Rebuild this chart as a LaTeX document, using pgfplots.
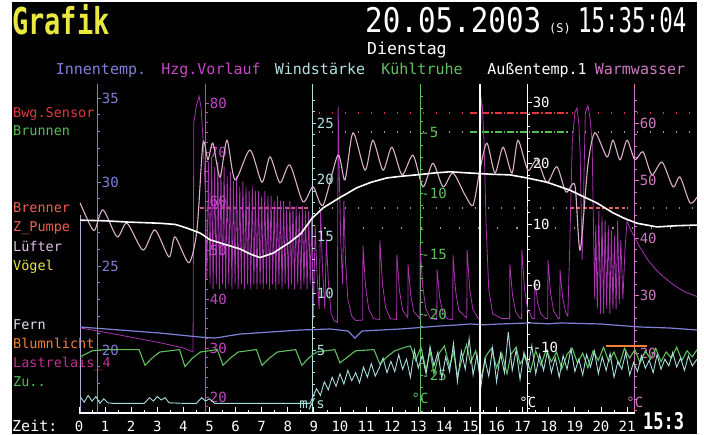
\documentclass[border=0pt]{standalone}
\usepackage{fontspec}
\setmainfont{DejaVu Sans Mono}
\setmonofont{DejaVu Sans Mono}
\usepackage{graphicx}
\usepackage{pgfplots}
\pgfplotsset{compat=1.18}
\definecolor{innen}{HTML}{8080D8}
\definecolor{hzg}{HTML}{C448C4}
\definecolor{hzgd}{HTML}{A834B0}
\definecolor{wind}{HTML}{B0E0E0}
\definecolor{windd}{HTML}{A8DCDC}
\definecolor{kuehl}{HTML}{60C060}
\definecolor{warm}{HTML}{D078C0}
\definecolor{warmd}{HTML}{D8B0C8}
\definecolor{gelb}{HTML}{E8E840}
\definecolor{rot}{HTML}{E03838}
\definecolor{salm}{HTML}{F06050}
\definecolor{blum}{HTML}{F08038}
\definecolor{gruen}{HTML}{50C050}
\definecolor{lila}{HTML}{C03090}
\definecolor{dotg}{HTML}{9A9A9A}
\definecolor{brpink}{HTML}{D05090}
\definecolor{luef}{HTML}{E0C0E8}
\definecolor{fern}{HTML}{E0E0F8}
\definecolor{nullln}{HTML}{B8A8D8}
\newcommand\f[1]{\fontsize{#1}{#1}\selectfont}
\pgfplotsset{base/.style={scale only axis, width=618pt, height=318pt,
  xmin=0, xmax=23.68, hide axis, clip=false, at={(79pt,21pt)}, anchor=south west}}
\begin{document}
\begin{tikzpicture}[x=1pt,y=1pt]
\useasboundingbox (0,0) rectangle (704,434);
\fill[white] (0,0) rectangle (704,434);
\fill[black] (12,0) rectangle (697,432);
% ---------- header texts
\node[anchor=base west,inner sep=0,text=gelb] at (12,399) {\f{37}\bfseries\scalebox{0.73}[1]{Grafik}};
\node[anchor=base west,inner sep=0,text=white] at (365,401) {\f{34}\scalebox{0.86}[1]{20.05.2003}};
\node[anchor=base west,inner sep=0,text=white] at (549,401) {\f{12}(S)};
\node[anchor=base west,inner sep=0,text=white] at (578,401) {\f{34}\scalebox{0.66}[1]{15:35:04}};
\node[anchor=base west,inner sep=0,text=white] at (367,379) {\f{16.5}Dienstag};
\node[anchor=base,inner sep=0,text=innen] at (101,359) {\f{15}Innentemp.};
\node[anchor=base,inner sep=0,text=hzg] at (211,359) {\f{15}Hzg.Vorlauf};
\node[anchor=base,inner sep=0,text=wind] at (320,359) {\f{15}Windstärke};
\node[anchor=base,inner sep=0,text=kuehl] at (422,359) {\f{15}Kühltruhe};
\node[anchor=base,inner sep=0,text=white] at (537,359) {\f{15}Außentemp.1};
\node[anchor=base,inner sep=0,text=warm] at (640,359) {\f{15}Warmwasser};
% ---------- left labels
\node[anchor=base west,inner sep=0,text=rot] at (13,316) {\f{13.5}Bwg.Sensor};
\node[anchor=base west,inner sep=0,text=gruen] at (13,298) {\f{13.5}Brunnen};
\node[anchor=base west,inner sep=0,text=salm] at (13,221) {\f{13.5}Brenner};
\node[anchor=base west,inner sep=0,text=salm] at (13,202) {\f{13.5}Z\_Pumpe};
\node[anchor=base west,inner sep=0,text=luef] at (13,182) {\f{13.5}Lüfter};
\node[anchor=base west,inner sep=0,text=gelb] at (13,163) {\f{13.5}Vögel};
\node[anchor=base west,inner sep=0,text=fern] at (13,104) {\f{13.5}Fern};
\node[anchor=base west,inner sep=0,text=blum] at (13,86) {\f{13.5}Blumnlicht};
\node[anchor=base west,inner sep=0,text=lila] at (13,67) {\f{13.5}Lastrelais\_4};
\node[anchor=base west,inner sep=0,text=gruen] at (13,48) {\f{13.5}Zu..};
\node[anchor=base west,inner sep=0,text=white] at (12,3) {\f{15}Zeit:};

% ---------- pixel axis: binary traces and axis lines
\begin{axis}[base, ymin=0, ymax=318]
\draw[innen, line width=0.8pt] (axis cs:0.69,0) -- (axis cs:0.69,329);
\draw[hzg, line width=0.8pt] (axis cs:4.83,0) -- (axis cs:4.83,329);
\draw[wind, line width=0.8pt] (axis cs:8.93,0) -- (axis cs:8.93,329);
\draw[kuehl, line width=0.8pt] (axis cs:13.07,0) -- (axis cs:13.07,329);
\draw[white, line width=0.8pt] (axis cs:17.2,0) -- (axis cs:17.2,329);
\draw[warm, line width=0.8pt] (axis cs:21.3,0) -- (axis cs:21.3,329);
\draw[nullln, line width=0.8pt] (axis cs:0.04,0) -- (axis cs:0.04,198);
% Bwg.Sensor
\addplot[rot, line width=1.2pt, dash pattern=on 1.2pt off 11.8pt] coordinates {(9.2,300) (14.98,300)};
\addplot[rot, line width=1.4pt, dash pattern=on 7pt off 2pt on 1.5pt off 2pt] coordinates {(14.98,300) (18.81,300)};
\addplot[rot, line width=1.2pt, dash pattern=on 1.2pt off 11.8pt] coordinates {(18.9,300) (23.6,300)};
% Brunnen
\addplot[dotg, line width=1.2pt, dash pattern=on 1.2pt off 11.8pt] coordinates {(9.2,281) (14.98,281)};
\addplot[gruen, line width=1.4pt, dash pattern=on 7pt off 2pt on 1.5pt off 2pt] coordinates {(14.98,281) (18.81,281)};
\addplot[dotg, line width=1.2pt, dash pattern=on 1.2pt off 11.8pt] coordinates {(18.9,281) (23.6,281)};
% Brenner
\addplot[brpink, line width=1.3pt, dash pattern=on 4pt off 2.5pt] coordinates {(4.64,205) (8.85,205)};
\addplot[dotg, line width=1.2pt, dash pattern=on 1.2pt off 11.8pt] coordinates {(9.2,205) (18.8,205)};
\addplot[salm, line width=1.3pt, dash pattern=on 4pt off 2.5pt] coordinates {(18.81,205) (20.92,205)};
\addplot[dotg, line width=1.2pt, dash pattern=on 1.2pt off 11.8pt] coordinates {(21.0,205) (23.6,205)};
% Z_Pumpe
\addplot[dotg, line width=1.2pt, dash pattern=on 1.2pt off 18pt] coordinates {(9.4,185) (23.6,185)};
% Blumnlicht
\addplot[blum, line width=1.5pt] coordinates {(20.2,67) (21.75,67)};
\node[text=wind, font=\f{14}, inner sep=0] at (axis cs:8.93,9) {m/s};
\node[text=kuehl, font=\f{14}, inner sep=0] at (axis cs:13.07,15) {°C};
\node[text=white, font=\f{14}, inner sep=0] at (axis cs:17.2,11) {°C};
\node[text=warm, font=\f{14}, inner sep=0] at (axis cs:21.3,11) {°C};
\end{axis}

% ---------- Hzg.Vorlauf
\begin{axis}[base, ymin=16.73, ymax=81.63]
\addplot[hzgd, line width=0.8pt] coordinates {
(0.04,34.1) (1.0,33.2) (2.0,32.2) (3.0,31.2) (4.0,30.0) (4.37,29.2) (4.40,76) (4.50,79.5) (4.60,81.4) (4.68,79) (4.76,72) (4.84,62)
(4.90,44) (4.96,68) (5.02,43) (5.08,69) (5.14,42) (5.20,67) (5.26,43) (5.32,68) (5.38,42) (5.44,66) (5.50,43) (5.56,67) (5.62,42) (5.68,65) (5.74,43) (5.80,66) (5.86,42) (5.92,64) (5.98,43) (6.04,65) (6.10,42) (6.16,63) (6.22,43) (6.28,64) (6.34,42) (6.40,63) (6.46,43) (6.52,62) (6.58,42) (6.64,63) (6.70,43) (6.76,62) (6.82,42) (6.88,62) (6.94,43) (7.00,61) (7.06,42) (7.12,62) (7.18,43) (7.24,61) (7.30,42) (7.36,61) (7.42,43) (7.48,60) (7.54,42) (7.60,61) (7.66,43) (7.72,60) (7.78,42) (7.84,60) (7.90,43) (7.96,59) (8.02,42) (8.08,60) (8.14,43) (8.20,59) (8.26,42) (8.32,59) (8.38,43) (8.44,58) (8.50,42) (8.56,59) (8.62,43) (8.68,58) (8.74,42) (8.80,58) (8.86,43) (8.92,57)
(8.98,36) (9.05,55) (9.12,45) (9.20,38) (9.26,58) (9.33,46) (9.42,38) (9.48,52) (9.56,43) (9.66,37) (9.78,35.6) (9.90,35.2) (9.93,79.2) (9.97,66) (10.03,52) (10.10,43) (10.15,60) (10.21,48) (10.30,40) (10.45,36.5) (10.60,35.6)
(10.87,35.7) (10.88,51) (10.98,42.6) (11.10,38) (11.28,36) (11.52,35.8) (11.53,52) (11.63,43) (11.75,38.2) (11.93,36) (12.17,35.8) (12.18,49) (12.28,41.7) (12.40,37.7) (12.60,36.2) (12.61,47) (12.71,40.8) (12.83,37.4) (13.06,36) (13.07,51) (13.17,42.6) (13.29,38) (13.47,36) (13.71,35.8) (13.72,46) (13.82,40.3) (13.94,37.2) (14.12,35.9) (14.32,35.8) (14.33,49) (14.43,41.7) (14.55,37.7) (14.86,36.1) (14.87,50) (14.97,42.1) (15.09,37.9) (15.30,36)
(15.38,36) (15.40,81.3) (15.46,79) (15.52,72) (15.60,55) (15.70,42) (15.85,37) (16.20,36) (16.50,36) (16.51,47) (16.61,40.8) (16.73,37.4) (16.91,36) (16.96,36) (16.97,50) (17.07,42.1) (17.19,37.9) (17.37,36) (17.46,36) (17.47,44) (17.57,39.4) (17.69,37) (17.87,36) (17.96,36) (17.97,48) (18.07,41.2) (18.19,37.5) (18.37,36) (18.42,36) (18.43,46) (18.53,40.3) (18.65,37.2)
(18.73,36.5) (18.80,50) (18.90,72) (19.00,78) (19.08,79) (19.15,76) (19.20,70) (19.28,48) (19.33,60) (19.40,78) (19.50,79.5) (19.58,77) (19.66,72) (19.76,40) (19.80,55) (19.86,38) (19.92,58) (19.98,37) (20.04,57) (20.10,37) (20.16,56) (20.22,38) (20.28,55) (20.34,37) (20.40,54) (20.46,38) (20.52,53) (20.58,38) (20.64,56) (20.70,39) (20.76,52) (20.84,40) (20.92,50)
(21.0,56) (21.10,54.5) (21.3,52.5) (21.5,50.5) (21.8,48) (22.1,46) (22.4,44.5) (22.8,42.8) (23.2,41.5) (23.68,40.5)};
\pgfplotsinvokeforeach{20,30,40,50,60,70,80}{\draw[hzg, line width=0.8pt] (axis cs:4.83,#1) -- ++(4pt,0pt) node[anchor=west, inner sep=0.5pt, text=hzg, font=\f{14}] {#1};}
\pgfplotsinvokeforeach{18,20,...,80}{\draw[hzg, line width=0.7pt] (axis cs:4.83,#1) -- ++(2.5pt,0pt);}
\end{axis}

% ---------- Warmwasser
\begin{axis}[base, ymin=9.57, ymax=64.87]
\addplot[warmd, line width=1.1pt, smooth, tension=0.45] coordinates {
(0.04,46.1) (0.42,42.3) (0.61,41.4) (0.92,44.9) (1.46,40.2) (1.84,42.6) (2.45,37.9) (2.91,41.4) (3.45,36.7) (3.68,40.2) (4.21,35.7) (4.52,41.4) (4.75,56.5) (4.94,53.6) (5.13,56.5) (5.40,50.6) (5.67,57.0) (5.98,50.1) (6.55,55.3) (7.01,49.7) (7.32,54.1) (7.70,49.6) (8.08,52.7) (8.58,46.3) (8.97,48.9) (9.35,45.7) (9.92,54.4) (10.19,50.1) (10.50,58.3) (10.96,51.8) (11.26,57.0) (11.65,51.8) (11.99,55.8) (12.38,51.0) (12.80,54.4) (13.18,48.9) (13.56,53.0) (13.95,48.9) (14.33,51.3) (14.79,47.5) (15.10,45.7) (15.36,51.8) (15.63,56.5) (15.94,51.3) (16.25,55.8) (16.59,51.3) (16.82,57.0) (17.20,51.8) (17.55,53.6) (17.93,49.6) (18.31,52.4) (18.66,48.0) (19.00,49.2) (19.20,37.9) (19.50,52.7) (19.77,58.3) (20.23,54.1) (20.46,57.0) (20.73,53.6) (21.00,57.0) (21.30,53.6) (21.61,55.0) (21.95,51.0) (22.34,53.2) (22.76,48.9) (23.03,50.6) (23.41,46.1) (23.68,47.1)};
\pgfplotsinvokeforeach{20,30,40,50,60}{\draw[warm, line width=0.8pt] (axis cs:21.3,#1) -- ++(4pt,0pt) node[anchor=west, inner sep=0.5pt, text=warm, font=\f{14}] {#1};}
\pgfplotsinvokeforeach{10,12,...,64}{\draw[warm, line width=0.7pt] (axis cs:21.3,#1) -- ++(2.5pt,0pt);}
\end{axis}

% ---------- Innentemp.
\begin{axis}[base, ymin=16.25, ymax=35.18]
\addplot[innen, line width=1.2pt] coordinates {
(0.04,21.37) (1.57,21.19) (3.10,21.01) (4.64,20.77) (5.21,20.71) (6.17,20.95) (7.32,21.07) (8.47,21.19) (9.62,21.25) (10.31,21.13) (10.57,20.71) (10.84,21.13) (12.30,21.25) (13.0,21.33) (13.83,21.43) (14.5,21.49) (14.98,21.55) (15.5,21.50) (16.13,21.55) (17.28,21.61) (18.0,21.56) (18.43,21.61) (19.2,21.58) (19.96,21.55) (20.8,21.45) (21.49,21.37) (22.64,21.31) (23.68,21.19)};
\pgfplotsinvokeforeach{20,25,30,35}{\draw[innen, line width=0.8pt] (axis cs:0.69,#1) -- ++(4pt,0pt) node[anchor=west, inner sep=0.5pt, text=innen, font=\f{14}] {#1};}
\pgfplotsinvokeforeach{17,...,35}{\draw[innen, line width=0.7pt] (axis cs:0.69,#1) -- ++(2.5pt,0pt);}
\end{axis}

% ---------- Kuehltruhe
\begin{axis}[base, ymin=-28.14, ymax=-1.86]
\addplot[kuehl, line width=1.1pt] coordinates {
(0.04,-23.5) (0.5,-23.0) (1.0,-22.9) (2.30,-22.9) (2.53,-24.2) (2.8,-23.6) (3.1,-23.1) (3.85,-22.9) (4.06,-24.3) (4.35,-23.6) (4.65,-23.1) (5.3,-22.9) (5.52,-24.2) (5.8,-23.6) (6.1,-23.1) (6.8,-22.9) (7.01,-24.2) (7.3,-23.6) (7.6,-23.1) (8.3,-22.9) (8.54,-24.2) (8.8,-23.6) (9.1,-23.1) (9.8,-22.9) (10.0,-24.0) (10.3,-23.5) (10.6,-23.0) (11.3,-22.9) (11.53,-24.1) (11.8,-23.5) (12.1,-23.0) (12.5,-22.7)
(12.7,-22.6) (12.9,-23.8) (13.1,-22.7) (13.3,-24.6) (13.45,-23.0) (13.6,-24.9) (13.8,-23.2) (14.0,-22.6) (14.2,-24.3) (14.35,-23.1) (14.5,-25.1) (14.7,-23.5) (14.85,-22.5) (15.0,-24.0) (15.2,-23.0) (15.4,-25.3) (15.6,-23.4) (15.8,-22.8) (16.0,-24.4) (16.2,-23.2) (16.4,-24.9) (16.55,-23.3) (16.75,-22.7) (16.9,-24.1) (17.1,-23.4) (17.3,-24.7) (17.5,-23.0) (17.7,-24.2) (17.9,-22.9) (18.1,-23.9) (18.3,-23.1) (18.5,-24.5) (18.7,-23.3) (18.9,-22.8) (19.1,-24.0) (19.3,-23.2) (19.5,-24.4) (19.7,-23.0) (19.9,-23.8) (20.1,-22.7) (20.3,-23.9) (20.5,-23.1) (20.7,-24.2) (20.9,-22.8) (21.1,-23.6) (21.3,-22.9) (21.5,-24.0) (21.7,-23.0) (21.9,-23.7) (22.1,-22.8) (22.3,-23.9) (22.5,-23.1) (22.7,-23.6) (22.9,-22.7) (23.1,-23.8) (23.3,-23.0) (23.5,-23.5) (23.68,-22.9)};
\pgfplotsinvokeforeach{-5,-10,-15,-20,-25}{\node[anchor=west, inner sep=0.5pt, text=kuehl, font=\f{14}] at ([xshift=0.6pt]axis cs:13.07,#1) {#1};}
\pgfplotsinvokeforeach{-28,...,-2}{\draw[kuehl, line width=0.7pt] (axis cs:13.07,#1) -- ++(2.5pt,0pt);}
\end{axis}

% ---------- Windstaerke
\begin{axis}[base, ymin=-0.55, ymax=27.47]
\addplot[windd, line width=0.9pt] coordinates {
(0.04,0.9) (0.2,0.4) (0.35,1.0) (0.5,0.5) (0.65,0.9) (0.8,0.3) (0.95,0.7) (1.1,0.35) (1.3,0.3) (2.0,0.3) (2.5,0.3) (2.7,0.8) (2.85,0.5) (3.0,0.9) (3.15,0.6) (3.3,0.8) (3.45,0.35) (4.0,0.3) (4.5,0.3) (4.7,0.8) (4.85,0.5) (5.0,0.7) (5.2,0.3) (6.0,0.3) (7.0,0.3) (8.0,0.3) (8.85,0.3)
(8.95,0.8) (9.1,1.6) (9.25,1.0) (9.4,2.2) (9.55,1.5) (9.7,2.6) (9.85,1.8) (10.0,2.9) (10.15,2.0) (10.3,3.2) (10.45,2.3) (10.6,3.0) (10.75,2.1) (10.9,3.5) (11.05,2.6) (11.2,3.8) (11.35,2.7) (11.5,3.4) (11.65,4.3) (11.8,3.0) (11.95,4.0) (12.1,3.1) (12.25,4.6) (12.4,3.3) (12.55,4.2) (12.7,2.6) (12.85,5.0) (13.0,3.4) (13.15,4.5) (13.3,2.9) (13.45,5.3) (13.6,3.6) (13.75,4.8) (13.9,2.5) (14.05,4.4) (14.2,3.1) (14.35,5.6) (14.5,2.2) (14.65,4.9) (14.8,3.3) (14.95,6.0) (15.1,2.8) (15.25,4.6) (15.4,1.8) (15.55,4.2) (15.7,2.7) (15.85,5.2) (16.0,2.2) (16.15,4.7) (16.3,3.0) (16.45,6.6) (16.6,3.2) (16.75,5.0) (16.9,2.4) (17.05,4.8) (17.2,3.4) (17.35,5.4) (17.5,2.9) (17.65,4.6) (17.8,3.2) (17.95,4.9) (18.1,3.0) (18.25,4.3) (18.4,2.6) (18.55,4.5) (18.7,3.3) (18.85,5.1) (19.0,3.1) (19.15,4.2) (19.3,2.8) (19.45,4.6) (19.6,3.5) (19.75,4.9) (19.9,2.9) (20.05,4.4) (20.2,3.2) (20.35,4.7) (20.5,2.6) (20.65,4.0) (20.8,3.3) (20.95,4.8) (21.1,2.8) (21.25,3.9) (21.4,3.1) (21.55,4.5) (21.7,3.4) (21.85,4.1) (22.0,3.0) (22.15,4.6) (22.3,3.3) (22.45,4.2) (22.6,3.6) (22.75,4.8) (22.9,3.5) (23.05,4.3) (23.2,3.2) (23.35,4.5) (23.5,3.6) (23.68,4.2)};
\pgfplotsinvokeforeach{5,10,15,20,25}{\draw[wind, line width=0.8pt] (axis cs:8.93,#1) -- ++(4pt,0pt) node[anchor=west, inner sep=0.5pt, text=wind, font=\f{14}] {#1};}
\pgfplotsinvokeforeach{1,...,27}{\draw[wind, line width=0.7pt] (axis cs:8.93,#1) -- ++(2.5pt,0pt);}
\end{axis}

% ---------- Aussentemp.1
\begin{axis}[base, ymin=-20.78, ymax=31.14]
\addplot[white, line width=1.6pt] coordinates {
(0.04,10.7) (1.0,10.6) (1.84,10.4) (3.10,10.2) (3.7,10.0) (4.14,9.4) (4.64,8.6) (5.02,7.5) (5.40,7.0) (6.17,6.0) (6.55,5.2) (6.93,4.6) (7.43,5.3) (8.08,7.1) (8.50,8.5) (8.93,11.0) (9.35,12.7) (10.0,14.4) (10.65,16.0) (11.20,16.9) (11.80,17.6) (12.40,17.9) (12.95,18.1) (13.6,18.4) (14.21,18.6) (14.98,18.4) (15.8,18.2) (16.51,18.1) (17.16,17.6) (17.93,16.9) (18.81,15.6) (19.3,14.6) (19.85,13.5) (20.46,11.9) (20.9,11.0) (21.38,10.2) (22.15,9.6) (22.9,9.8) (23.68,9.9)};
\pgfplotsinvokeforeach{-10,0,10,20,30}{\draw[white, line width=0.8pt] (axis cs:17.2,#1) -- ++(4pt,0pt) node[anchor=west, inner sep=0.5pt, text=white, font=\f{14}] {#1};}
\pgfplotsinvokeforeach{-20,-18,...,30}{\draw[white, line width=0.7pt] (axis cs:17.2,#1) -- ++(2.5pt,0pt);}
\end{axis}

% ---------- x axis, cursor
\begin{axis}[base, ymin=0, ymax=318]
\draw[white, line width=1.5pt] (axis cs:0,0) -- (axis cs:21.3,0);
\pgfplotsinvokeforeach{0,...,21}{\draw[white, line width=0.8pt] (axis cs:#1,0) -- ++(0pt,6pt);
  \node[anchor=base, text=white, font=\f{14}, inner sep=0] at (axis cs:#1,-18) {#1};}
\pgfplotsinvokeforeach{0.5,1.5,...,20.5}{\draw[white, line width=0.7pt] (axis cs:#1,0) -- ++(0pt,3pt);}
\addplot[white, line width=2.6pt] coordinates {(15.36,-21) (15.36,329)};
\end{axis}
\node[anchor=base west,inner sep=0,text=white] at (643,5) {\f{23}\bfseries\scalebox{0.74}[1]{15:3}};
\end{tikzpicture}
\end{document}
